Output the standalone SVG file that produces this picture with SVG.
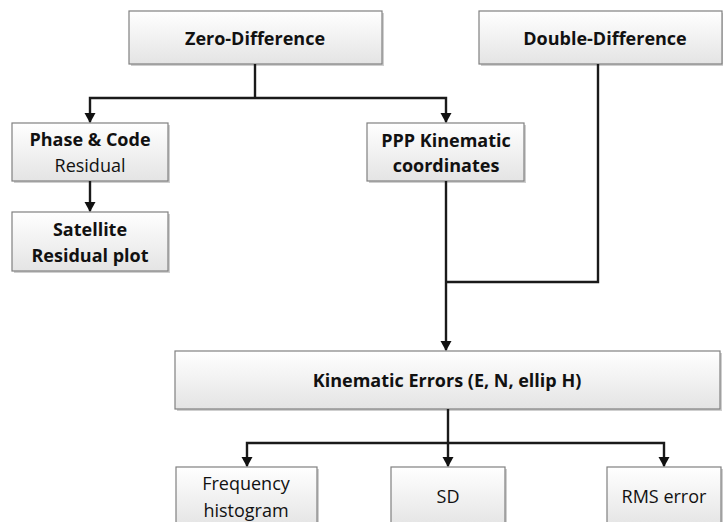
<svg xmlns="http://www.w3.org/2000/svg" width="723" height="522" viewBox="0 0 723 522">
<defs>
<linearGradient id="g" x1="0" y1="0" x2="0" y2="1">
<stop offset="0" stop-color="#ffffff"/>
<stop offset="1" stop-color="#e4e4e4"/>
</linearGradient>
<marker id="a" markerWidth="12" markerHeight="12" refX="9" refY="6" orient="auto" markerUnits="userSpaceOnUse" viewBox="0 0 12 12">
<path d="M0,0.5 L10,6 L0,11.5 Z" fill="#111"/>
</marker>
</defs>
<style>
.b{fill:url(#g);stroke:#808080;stroke-width:1.2}
.s{fill:#cfcfcf}
text{font-family:"Open Sans","Liberation Sans",sans-serif;font-size:18px;fill:#111;text-anchor:middle}
.t{font-weight:bold}
.c{fill:none;stroke:#1a1a1a;stroke-width:2.4}
</style>
<g id="zero-difference"><rect class="s" x="131" y="13" width="253" height="53"/><rect class="b" x="129" y="11" width="253" height="53"/><text class="t" x="255" y="45">Zero-Difference</text></g>
<g id="double-difference"><rect class="s" x="481" y="13" width="243" height="53"/><rect class="b" x="479" y="11" width="243" height="53"/><text class="t" x="605" y="45">Double-Difference</text></g>
<g id="phase-code"><rect class="s" x="14" y="125" width="156" height="58"/><rect class="b" x="12" y="123" width="156" height="58"/><text class="t" x="90" y="146">Phase &amp; Code</text><text x="90" y="172">Residual</text></g>
<g id="satellite"><rect class="s" x="14" y="214" width="156" height="59"/><rect class="b" x="12" y="212" width="156" height="59"/><text class="t" x="90" y="236">Satellite</text><text class="t" x="90" y="262">Residual plot</text></g>
<g id="ppp"><rect class="s" x="369" y="125" width="157" height="58"/><rect class="b" x="367" y="123" width="157" height="58"/><text class="t" x="446" y="147">PPP Kinematic</text><text class="t" x="446" y="172">coordinates</text></g>
<g id="kinematic-errors"><rect class="s" x="177" y="353" width="545" height="58"/><rect class="b" x="175" y="351" width="545" height="58"/><text class="t" x="447" y="387">Kinematic Errors (E, N, ellip H)</text></g>
<g id="frequency"><rect class="s" x="178" y="469" width="141" height="60"/><rect class="b" x="176" y="467" width="141" height="60"/><text x="246" y="490">Frequency</text><text x="246" y="517">histogram</text></g>
<g id="sd"><rect class="s" x="393" y="469" width="114" height="60"/><rect class="b" x="391" y="467" width="114" height="60"/><text x="448" y="503">SD</text></g>
<g id="rms"><rect class="s" x="609" y="469" width="114" height="60"/><rect class="b" x="607" y="467" width="114" height="60"/><text x="664" y="503">RMS error</text></g>
<g id="connectors">
<path class="c" d="M255,64 V98"/>
<path class="c" d="M255,98 H90 V122" marker-end="url(#a)"/>
<path class="c" d="M255,98 H446 V122" marker-end="url(#a)" stroke="#404040"/>
<path class="c" d="M90,181 V211" marker-end="url(#a)"/>
<path class="c" d="M598,64 V282 H446"/>
<path class="c" d="M446,181 V350" marker-end="url(#a)"/>
<path class="c" d="M448,409 V443"/>
<path class="c" d="M448,443 H247 V466" marker-end="url(#a)"/>
<path class="c" d="M448,443 V466" marker-end="url(#a)"/>
<path class="c" d="M448,443 H664 V466" marker-end="url(#a)"/>
</g>
</svg>
